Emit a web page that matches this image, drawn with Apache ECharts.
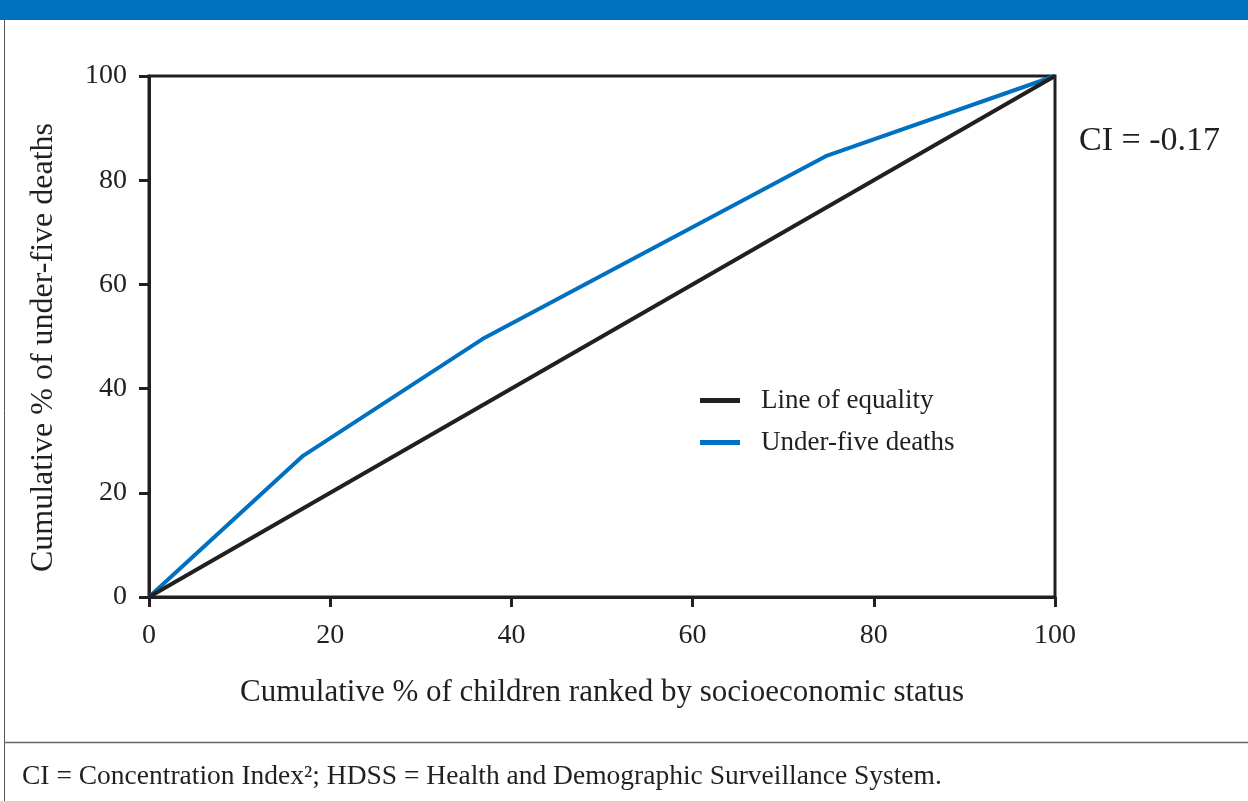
<!DOCTYPE html>
<html><head><meta charset="utf-8">
<script src="https://cdn.jsdelivr.net/npm/echarts@6/dist/echarts.min.js"></script>
<style>html,body{margin:0;padding:0;background:#fff;}#c{width:1248px;height:801px;}</style>
</head><body><div id="c"></div>
<script>
const xTicks = [0, 20, 40, 60, 80, 100];
const yTicks = [0, 20, 40, 60, 80, 100];
const equalityX = [0, 100];
const equalityY = [0, 100];
const deathsX = [0, 17.0, 36.8, 74.7, 100];
const deathsY = [0, 27.1, 49.5, 84.6, 100];
const seriesNames = ['Line of equality', 'Under-five deaths'];
const ciText = 'CI = -0.17';
const xName = 'Cumulative % of children ranked by socioeconomic status';
const yName = 'Cumulative % of under-five deaths';
const footnote = 'CI = Concentration Index\u00b2; HDSS = Health and Demographic Surveillance System.';

const font = 'Liberation Serif';
const ink = '#231f20';
const blue = '#0070c0';
const chart = echarts.init(document.getElementById('c'));
chart.setOption({
  animation: false,
  textStyle: { fontFamily: font, color: ink },
  grid: { left: 149, right: 1248 - 1055, top: 76, bottom: 801 - 597, show: true, borderColor: ink, borderWidth: 3, containLabel: false },
  xAxis: {
    type: 'value', min: 0, max: 100, interval: 20,
    name: xName, nameLocation: 'middle', nameGap: 80,
    nameTextStyle: { fontSize: 31, color: ink, fontFamily: font },
    axisLine: { show: true, lineStyle: { color: ink, width: 3 } },
    axisTick: { show: true, length: 10, lineStyle: { color: ink, width: 3 } },
    axisLabel: { fontSize: 28, color: ink, margin: 25, fontFamily: font, formatter: v => xTicks.includes(v) ? String(v) : '' },
    splitLine: { show: false }
  },
  yAxis: {
    type: 'value', min: 0, max: 100, interval: 20,
    name: yName, nameLocation: 'middle', nameGap: 89,
    nameTextStyle: { fontSize: 32, color: ink, fontFamily: font, padding: [0, 22, 0, 0] },
    axisLine: { show: true, lineStyle: { color: ink, width: 3 } },
    axisTick: { show: true, length: 10, lineStyle: { color: ink, width: 3 } },
    axisLabel: { fontSize: 28, color: ink, margin: 22, fontFamily: font, formatter: v => yTicks.includes(v) ? String(v) : '' },
    splitLine: { show: false }
  },
  legend: {
    orient: 'vertical', left: 700, top: 387, itemGap: 15, padding: 0,
    itemWidth: 40, itemHeight: 5, icon: 'rect',
    textStyle: { fontSize: 27, color: ink, fontFamily: font, padding: [0, 0, 0, 16] },
    data: seriesNames
  },
  series: [
    { name: seriesNames[0], type: 'line', showSymbol: false, symbol: 'none', itemStyle: { color: ink },
      lineStyle: { color: ink, width: 4 }, data: equalityX.map((x, i) => [x, equalityY[i]]), z: 3 },
    { name: seriesNames[1], type: 'line', showSymbol: false, symbol: 'none', itemStyle: { color: blue },
      lineStyle: { color: blue, width: 4 }, data: deathsX.map((x, i) => [x, deathsY[i]]), z: 2 }
  ],
  graphic: [
    { type: 'rect', shape: { x: 0, y: 0, width: 1248, height: 20 }, style: { fill: '#0071bf' } },
    { type: 'line', shape: { x1: 4.5, y1: 20, x2: 4.5, y2: 801 }, style: { stroke: '#555', lineWidth: 1 } },
    { type: 'line', shape: { x1: 4, y1: 742.5, x2: 1248, y2: 742.5 }, style: { stroke: '#666', lineWidth: 1.5 } },
    { type: 'text', left: 1079, top: 124, style: { text: ciText, fontSize: 34, fill: ink, fontFamily: font } },
    { type: 'text', left: 22, top: 763, style: { text: footnote, fontSize: 27.5, fill: ink, fontFamily: font } }
  ]
});
</script></body></html>
